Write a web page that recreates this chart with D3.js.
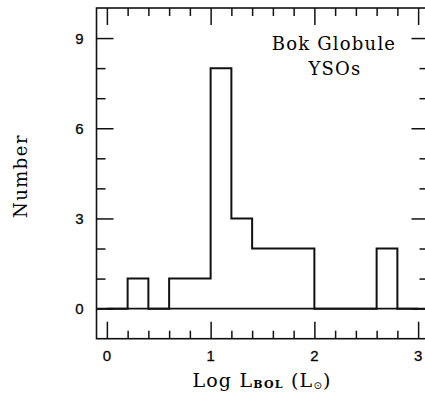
<!DOCTYPE html>
<html>
<head>
<meta charset="utf-8">
<script src="https://cdn.jsdelivr.net/npm/d3@7"></script>
<style>
  html, body { margin: 0; padding: 0; background: #fff; }
  svg { display: block; }
</style>
</head>
<body>
<div id="chart"></div>
<script>
// histogram bins (log L_bol, width 0.2) and counts
const binEdges = [0.0, 0.2, 0.4, 0.6, 0.8, 1.0, 1.2, 1.4, 1.6, 1.8, 2.0, 2.2, 2.4, 2.6, 2.8, 3.0];
const counts = [0, 1, 0, 1, 1, 8, 3, 2, 2, 2, 0, 0, 0, 2, 0];

const xMajor = [0, 1, 2, 3];
const xMinor = [0.2, 0.4, 0.6, 0.8, 1.2, 1.4, 1.6, 1.8, 2.2, 2.4, 2.6, 2.8];
const yMajor = [0, 3, 6, 9];
const yMinor = [1, 2, 4, 5, 7, 8];

const width = 425, height = 394;

const x = d3.scaleLinear().domain([-0.1, 3.1]).range([96.5, 428.5]);
const y = d3.scaleLinear().domain([-1, 10]).range([338.7, 8]);

const svg = d3.select('#chart').append('svg')
    .attr('width', width)
    .attr('height', height);

// frame
svg.append('rect')
    .attr('x', x(-0.1)).attr('y', y(10))
    .attr('width', x(3.1) - x(-0.1))
    .attr('height', y(-1) - y(10))
    .attr('fill', 'none')
    .attr('stroke', '#111')
    .attr('stroke-width', 1.6);

// inward ticks on all four sides
function ticks(axisFn, scale, values, size, transform) {
    const g = svg.append('g')
        .attr('transform', transform)
        .call(axisFn(scale).tickValues(values).tickSize(size).tickFormat(''));
    g.select('.domain').remove();
    g.selectAll('line').attr('stroke', '#111').attr('stroke-width', 1.5);
}
ticks(d3.axisBottom, x, xMajor, -17, `translate(0,${y(-1)})`);
ticks(d3.axisBottom, x, xMinor, -8, `translate(0,${y(-1)})`);
ticks(d3.axisTop, x, xMajor, -17, `translate(0,${y(10)})`);
ticks(d3.axisTop, x, xMinor, -8, `translate(0,${y(10)})`);
ticks(d3.axisLeft, y, yMajor, -17, `translate(${x(-0.1)},0)`);
ticks(d3.axisLeft, y, yMinor, -9, `translate(${x(-0.1)},0)`);
ticks(d3.axisRight, y, yMajor, -17, `translate(${x(3.1)},0)`);
ticks(d3.axisRight, y, yMinor, -9, `translate(${x(3.1)},0)`);

// tick labels
const sans = '"Liberation Sans", Arial, sans-serif';
svg.append('g').selectAll('text')
    .data(xMajor)
    .join('text')
    .attr('x', d => x(d))
    .attr('y', y(-1) + 22)
    .attr('text-anchor', 'middle')
    .style('font-family', sans)
    .style('font-size', '15px')
    .style('stroke', '#111').style('stroke-width', 0.3)
    .text(d => d);

svg.append('g').selectAll('text')
    .data(yMajor)
    .join('text')
    .attr('x', x(-0.1) - 13)
    .attr('y', d => y(d) + 5.5)
    .attr('text-anchor', 'end')
    .style('font-family', sans)
    .style('font-size', '15px')
    .style('stroke', '#111').style('stroke-width', 0.3)
    .text(d => d);

// zero line across the frame
svg.append('line')
    .attr('x1', x(-0.1)).attr('x2', x(3.1))
    .attr('y1', y(0)).attr('y2', y(0))
    .attr('stroke', '#111')
    .attr('stroke-width', 1.6);

// stepped histogram outline
const pts = [[binEdges[0], 0]];
counts.forEach((c, i) => {
    pts.push([binEdges[i], c]);
    pts.push([binEdges[i + 1], c]);
});
pts.push([binEdges[binEdges.length - 1], 0]);

svg.append('path')
    .attr('d', d3.line().x(d => x(d[0])).y(d => y(d[1]))(pts))
    .attr('fill', 'none')
    .attr('stroke', '#111')
    .attr('stroke-width', 2)
    .attr('stroke-linejoin', 'miter');

// annotation
const serif = '"DejaVu Serif", "Liberation Serif", serif';
svg.append('text')
    .attr('x', 334).attr('y', 50)
    .attr('text-anchor', 'middle')
    .style('font-family', serif)
    .style('font-size', '18px')
    .style('letter-spacing', '1.2px')
    .text('Bok Globule');
svg.append('text')
    .attr('x', 335).attr('y', 75)
    .attr('text-anchor', 'middle')
    .style('font-family', serif)
    .style('font-size', '18px')
    .style('letter-spacing', '1.2px')
    .text('YSOs');

// axis titles
svg.append('text')
    .attr('transform', 'translate(27,176) rotate(-90)')
    .attr('text-anchor', 'middle')
    .style('font-family', serif)
    .style('font-size', '18px')
    .style('letter-spacing', '1.5px')
    .text('Number');

const xt = svg.append('text')
    .attr('x', 262).attr('y', 387)
    .attr('text-anchor', 'middle')
    .style('font-family', serif)
    .style('font-size', '19px')
    .style('letter-spacing', '1.2px');
xt.append('tspan').text('Log L');
xt.append('tspan').attr('dy', 1).style('font-size', '11px').style('font-weight', 'bold').text('BOL');
xt.append('tspan').attr('dy', -1).text(' (L');
xt.append('tspan').attr('dy', 2).style('font-size', '10px')
    .style('font-family', '"DejaVu Sans", sans-serif').text('\u2299');
xt.append('tspan').attr('dy', -2).text(')');
</script>
</body>
</html>
